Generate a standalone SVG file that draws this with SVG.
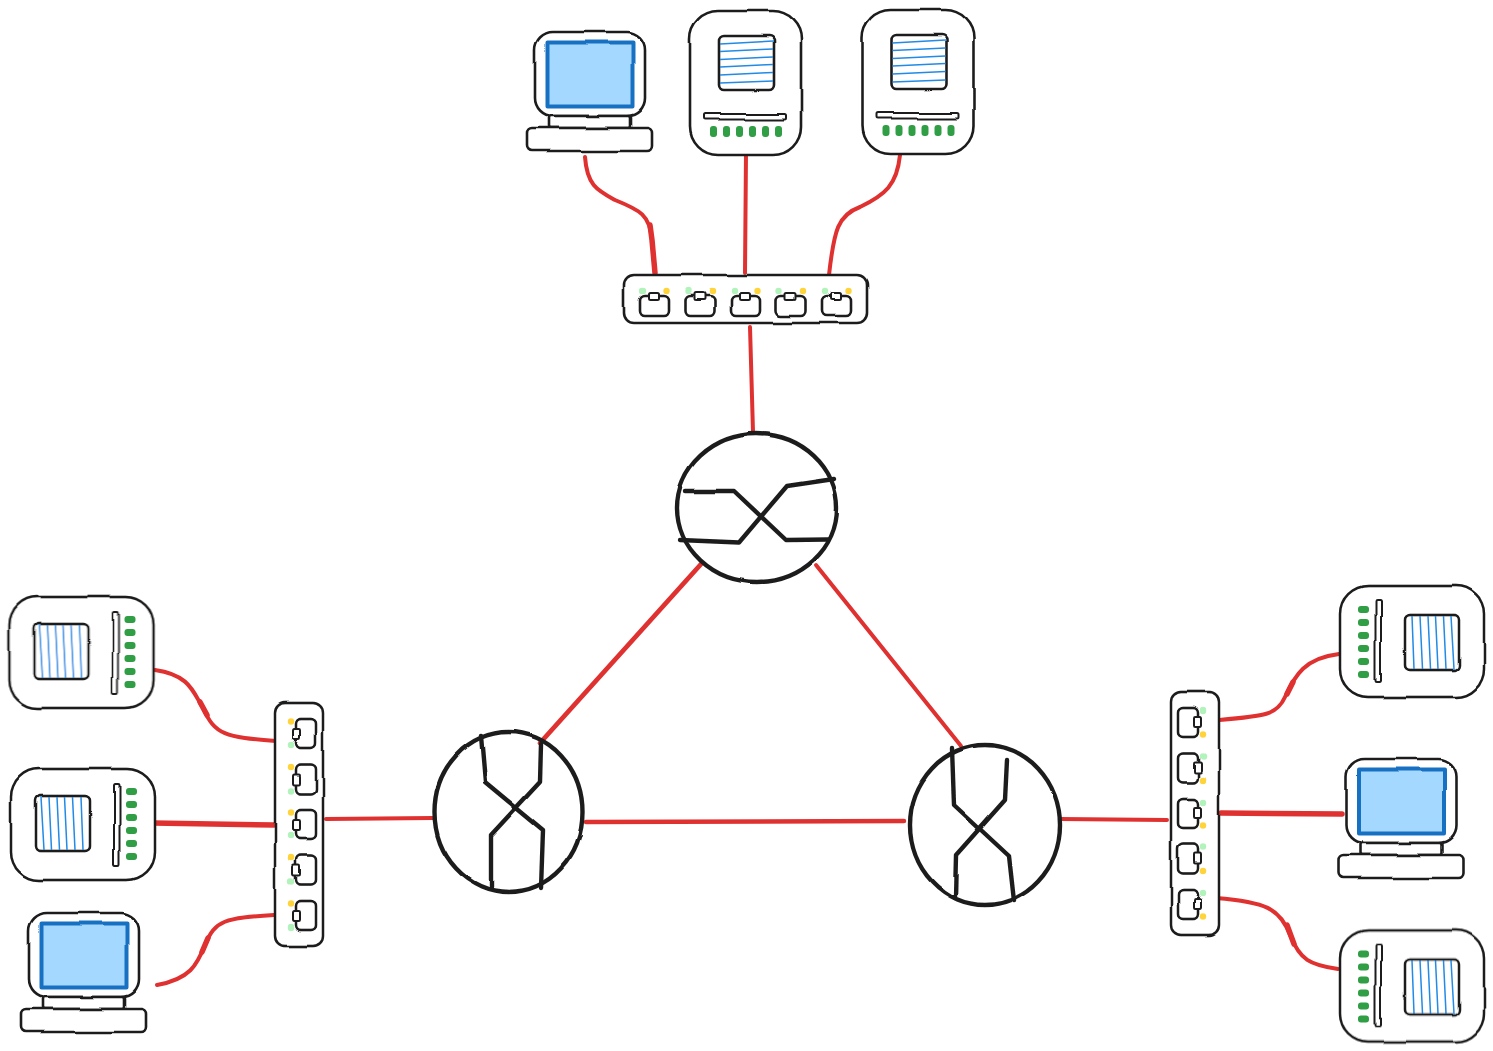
<svg xmlns="http://www.w3.org/2000/svg" width="1493" height="1051" viewBox="0 0 1493 1051">
<style>
.k{fill:#fff;stroke:#1e1e1e;stroke-width:2.6;stroke-linejoin:round}
.t{stroke-width:2}
.r{fill:none;stroke:#1e1e1e;stroke-width:4.400;stroke-linejoin:round;stroke-linecap:round}
.h{stroke:#228be6;stroke-width:1.500;fill:none}
.g{fill:#2f9e44}
.a{fill:#b2f2bb}
.y{fill:#ffd43b}
.c{fill:none;stroke:#e03131;stroke-width:4;stroke-linecap:round;stroke-linejoin:round}
.b{stroke-width:5.500}
.sk{filter:url(#w)}
</style>
<defs>
<filter id="w" x="-10%" y="-10%" width="120%" height="120%">
<feTurbulence type="fractalNoise" baseFrequency="0.022" numOctaves="1" seed="4"/>
<feDisplacementMap in="SourceGraphic" scale="3" xChannelSelector="R" yChannelSelector="G"/>
</filter>
<g id="server">
<rect class="k" x="0" y="0" width="111" height="144" rx="28"/>
<rect class="k" x="29" y="25" width="55" height="54" rx="5"/>
<path class="h" d="M30 33L83 30M30 40.500L83 38M30 48.500L83 46M30 56L83 53.500M30 64L83 61.500M30 72L83 70"/>
<rect class="k t" x="14" y="103" width="82" height="5.500" rx="1.500"/>
</g>
<g id="leds" class="g">
<rect x="20" y="115" width="7" height="11" rx="3"/><rect x="33" y="115" width="7" height="11" rx="3"/><rect x="46" y="115" width="7" height="11" rx="3"/><rect x="59" y="115" width="7" height="11" rx="3"/><rect x="72" y="115" width="7" height="11" rx="3"/><rect x="85" y="115" width="7" height="11" rx="3"/>
</g>
<g id="pc">
<rect class="k" x="8" y="0" width="110" height="84" rx="18"/>
<rect x="20.500" y="10.500" width="85" height="64" fill="#a5d8ff" stroke="#1971c2" stroke-width="4" stroke-linejoin="round"/>
<rect class="k" x="22" y="84" width="81" height="12" rx="2"/>
<rect class="k" x="0" y="96" width="125" height="23" rx="5"/>
</g>
<g id="port">
<circle class="a" cx="19" cy="16" r="3.200"/>
<circle class="y" cx="42.500" cy="16" r="3.200"/>
<rect class="k" x="16" y="21" width="29" height="20" rx="5"/>
<rect class="k t" x="25" y="18" width="10" height="7" rx="1.500"/>
</g>
<g id="sw">
<rect class="k" x="0" y="0" width="243" height="48" rx="10"/>
<use href="#port"/>
<use href="#port" x="45.500"/>
<use href="#port" x="91"/>
<use href="#port" x="136.500"/>
<use href="#port" x="182"/>
</g>
</defs>
<g id="connectors">
<path class="c" d="M585 157C587 185 597 190 615 200C640 210 650 215 652 240L655 273"/>
<path class="c b" d="M650 225L652 240L655 273"/>
<path class="c" d="M746 153L745 273"/>
<path class="c" d="M900 155C897 185 885 195 860 207C838 215 834 230 829 275"/>
<path class="c" d="M750 327L753 432"/>
<path class="c b" d="M702 563L540 743" style="stroke-width:4.800"/>
<path class="c" d="M816 565L961 746"/>
<path class="c b" d="M586 822L904 821" style="stroke-width:4.500"/>
<path class="c" d="M1060 819L1167 820"/>
<path class="c" d="M326 819L433 818"/>
<path class="c" d="M155 670C190 675 193 692 203 708C215 735 225 737 276 741"/>
<path class="c b" d="M200 702L207 715"/>
<path class="c b" d="M153 823L274 825"/>
<path class="c" d="M157 985C190 979 197 965 205 945C215 920 225 918 274 915"/>
<path class="c b" d="M202 952L208 938"/>
<path class="c" d="M1219 720C1265 716 1277 715 1285 697C1295 675 1305 658 1339 654"/>
<path class="c b" d="M1287 694L1293 682"/>
<path class="c b" d="M1221 813L1342 814"/>
<path class="c" d="M1216 898C1265 902 1280 908 1290 935C1300 960 1310 965 1338 969"/>
<path class="c b" d="M1287 925L1294 944"/>
</g>
<g id="pc-top" class="sk" transform="translate(527 32)"><use href="#pc"/></g>
<g id="server-top-1" transform="translate(690 11)"><use class="sk" href="#server"/><use href="#leds"/></g>
<g id="server-top-2" transform="translate(862.500 10)"><use class="sk" href="#server"/><use href="#leds"/></g>
<g id="switch-top" class="sk" transform="translate(624 275)"><use href="#sw"/></g>
<g id="router-top" class="sk">
<ellipse class="r" cx="757" cy="508" rx="80" ry="74"/>
<path class="r" d="M685 491L734 491L786 540L828 539.500M680 540L739 542.500L787 486L834 479"/>
</g>
<g id="router-left" class="sk">
<ellipse class="r" cx="508.500" cy="812" rx="74" ry="80"/>
<path class="r" d="M481 736L485 782L543 830L541 888M541 744L540 782L491 835L491 887"/>
</g>
<g id="router-right" class="sk">
<ellipse class="r" cx="985" cy="825" rx="75" ry="80"/>
<path class="r" d="M952 748L954 805L1009 856L1014 901M1007 760L1005 800L956 855L955 898"/>
</g>
<g id="switch-left" class="sk" transform="translate(275 946) rotate(-90)"><use href="#sw"/></g>
<g id="server-left-1" transform="translate(9.500 708) rotate(-90)"><use class="sk" href="#server"/><use href="#leds"/></g>
<g id="server-left-2" transform="translate(11 880) rotate(-90)"><use class="sk" href="#server"/><use href="#leds"/></g>
<g id="pc-left" class="sk" transform="translate(21 913)"><use href="#pc"/></g>
<g id="switch-right" class="sk" transform="translate(1219 692) rotate(90)"><use href="#sw"/></g>
<g id="server-right-1" transform="translate(1484 586) rotate(90)"><use class="sk" href="#server"/><use href="#leds"/></g>
<g id="server-right-2" transform="translate(1484 930.500) rotate(90)"><use class="sk" href="#server"/><use href="#leds"/></g>
<g id="pc-right" class="sk" transform="translate(1338.500 759)"><use href="#pc"/></g>
</svg>
